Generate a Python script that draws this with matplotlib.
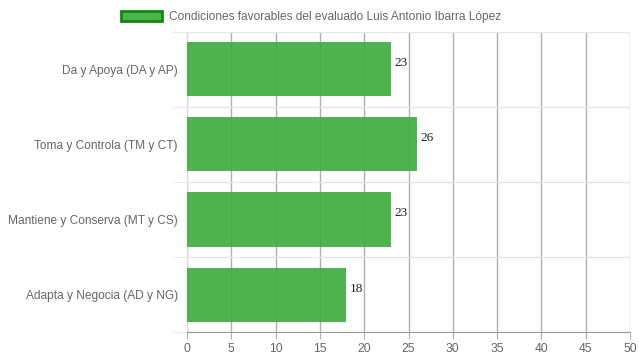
import matplotlib
matplotlib.use("Agg")
import matplotlib.pyplot as plt
from matplotlib.patches import Patch

# datos del grafico
categorias = ["Da y Apoya (DA y AP)", "Toma y Controla (TM y CT)",
              "Mantiene y Conserva (MT y CS)", "Adapta y Negocia (AD y NG)"]
valores = [23, 26, 23, 18]
leyenda = "Condiciones favorables del evaluado Luis Antonio Ibarra López"
ticks_x = [0, 5, 10, 15, 20, 25, 30, 35, 40, 45, 50]

plt.rcParams['font.family'] = ['Liberation Sans', 'DejaVu Sans']

fig = plt.figure(figsize=(6.39, 3.6), dpi=100)
ax = fig.add_axes([187 / 639, 28 / 360, 443 / 639, 300 / 360])

pos = list(range(len(categorias)))
ax.barh(pos, valores, height=0.72, color="#3cac3c", alpha=0.9, zorder=3)

for y, v in zip(pos, valores):
    ax.text(v + 0.4, y - 0.08, str(v), family="Liberation Serif", fontsize=9.5,
            color="#222222", va="center", ha="left", zorder=4)

ax.set_xlim(0, 50)
ax.set_ylim(3.5, -0.5)
ax.set_xticks(ticks_x)
ax.set_yticks(pos)
ax.set_yticklabels(categorias)
ax.set_yticks([-0.5, 0.5, 1.5, 2.5, 3.5], minor=True)

ax.grid(axis="x", color="#b0b0b0", linewidth=1, zorder=4)
ax.grid(axis="y", which="minor", color="#e6e6e6", linewidth=1, zorder=1)
ax.tick_params(axis="x", length=5, color="#b0b0b0", labelcolor="#666666", labelsize=8.7, pad=3)
ax.tick_params(axis="y", which="major", length=0, labelcolor="#666666", labelsize=8.6, pad=6.5)
ax.tick_params(axis="y", which="minor", length=10, color="#e6e6e6")

for s in ["top", "right"]:
    ax.spines[s].set_visible(False)
ax.spines["bottom"].set_color("#999999")
ax.spines["left"].set_color("#dddddd")

h = Patch(facecolor="#4cb44c", edgecolor="#118811", linewidth=2)
fig.legend([h], [leyenda], loc="upper center", bbox_to_anchor=(0.487, 1.0),
           frameon=False, fontsize=8.6, handlelength=3.4, handleheight=0.9,
           handletextpad=0.6, labelcolor="#666666")

fig.savefig("out.png", dpi=100)
